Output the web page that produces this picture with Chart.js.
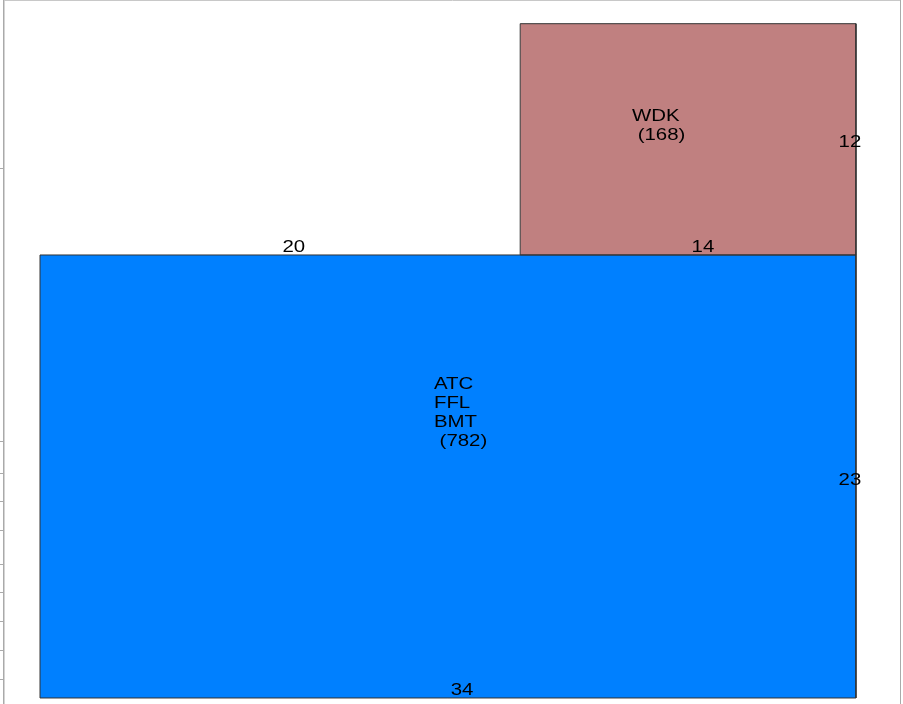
<!DOCTYPE html>
<html>
<head>
<meta charset="utf-8">
<script src="https://cdn.jsdelivr.net/npm/chart.js@4/dist/chart.umd.min.js"></script>
<style>
  html, body { margin: 0; padding: 0; background: #fff; }
  #wrap { width: 903px; height: 704px; position: relative; }
</style>
</head>
<body>
<div id="wrap"><canvas id="mosaic"></canvas></div>
<script>
// tiles: name lines, count, horizontal start and width (fraction of full width)
const nodeNames = [["ATC", "FFL", "BMT"], ["WDK"]];
const counts = [782, 168];
const xStart = [0, 0.5885];
const widths = [1, 0.4115];
const yStart = [0, 782];
const tileColors = ["#0080ff", "#c08080"];

// numbers written on the tile edges
const edgeLabels = ["20", "14", "12", "23", "34"];

// tick marks on the left axis (no labels shown)
const axisTicks = [935, 452.4, 396.6, 346.5, 294.8, 236.5, 185.9, 135.4, 83, 33];

// layout only: where the texts sit, in data units
const nodeLabelPos = [{ x: 0.4828, y: 545.5 }, { x: 0.7255, y: 1018.5 }];
const edgeLabelPos = [
  { x: 0.311, y: 787.3 },
  { x: 0.8125, y: 787.3 },
  { x: 0.9926, y: 972.6 },
  { x: 0.9926, y: 376.0 },
  { x: 0.5172, y: 5.3 }
];

const datasets = [];
// outlines first so they sit on top
counts.forEach((c, i) => {
  const x0 = xStart[i], x1 = xStart[i] + widths[i];
  const y0 = yStart[i], y1 = yStart[i] + c / widths[i];
  datasets.push({
    data: [{x: x0, y: y0}, {x: x0, y: y1}, {x: x1, y: y1}, {x: x1, y: y0}, {x: x0, y: y0}],
    showLine: true, fill: false, borderColor: "#333", borderWidth: 1, pointRadius: 0
  });
});
counts.forEach((c, i) => {
  const x0 = xStart[i], x1 = xStart[i] + widths[i];
  const y0 = yStart[i], y1 = yStart[i] + c / widths[i];
  datasets.push({
    data: [{x: x0, y: y1}, {x: x1, y: y1}],
    showLine: true, fill: {value: y0}, backgroundColor: tileColors[i],
    borderColor: tileColors[i], borderWidth: 0, pointRadius: 0
  });
});

function stretchedText(ctx, txt, x, y, align) {
  ctx.save();
  ctx.translate(x, y);
  ctx.scale(1.2, 1);
  ctx.textAlign = align;
  ctx.fillText(txt, 0, 0);
  ctx.restore();
}

const labelPlugin = {
  id: "labels",
  afterDraw(chart) {
    const ctx = chart.ctx;
    const xs = chart.scales.x, ys = chart.scales.y;
    const a = chart.chartArea;
    // frame
    ctx.save();
    ctx.strokeStyle = "#c8c8c8";
    ctx.lineWidth = 1;
    ctx.beginPath();
    ctx.moveTo(a.left, 0.5);
    ctx.lineTo(a.right, 0.5);
    ctx.stroke();
    ctx.strokeStyle = "#aaa";
    ctx.beginPath();
    ctx.moveTo(a.right - 0.5, 0);
    ctx.lineTo(a.right - 0.5, a.bottom);
    ctx.stroke();
    ctx.restore();

    ctx.save();
    ctx.font = '17px "Liberation Sans", Arial, sans-serif';
    ctx.fillStyle = "#000";
    ctx.textBaseline = "alphabetic";
    nodeNames.forEach((lines, i) => {
      const px = xs.getPixelForValue(nodeLabelPos[i].x);
      const py = ys.getPixelForValue(nodeLabelPos[i].y);
      const all = lines.concat([" (" + counts[i] + ")"]);
      all.forEach((t, k) => stretchedText(ctx, t, px, py + k * 19, "left"));
    });
    edgeLabels.forEach((t, i) => {
      stretchedText(ctx, t, xs.getPixelForValue(edgeLabelPos[i].x),
        ys.getPixelForValue(edgeLabelPos[i].y), "center");
    });
    ctx.restore();
  }
};

new Chart(document.getElementById("mosaic"), {
  type: "scatter",
  data: { datasets: datasets },
  options: {
    responsive: true,
    maintainAspectRatio: false,
    animation: false,
    events: [],
    layout: { padding: { left: 0, right: 2, top: 0, bottom: 0 } },
    plugins: { legend: { display: false }, tooltip: { enabled: false } },
    scales: {
      x: { type: "linear", display: false, min: -0.04412, max: 1.0552 },
      y: {
        type: "linear", min: -10.6, max: 1232.1,
        afterBuildTicks: axis => { axis.ticks = axisTicks.map(v => ({ value: v })); },
        ticks: { display: false },
        grid: { drawOnChartArea: false, tickLength: 4, color: "#aaa" },
        border: { color: "#aaa", width: 1.5 }
      }
    }
  },
  plugins: [labelPlugin]
});
</script>
</body>
</html>
